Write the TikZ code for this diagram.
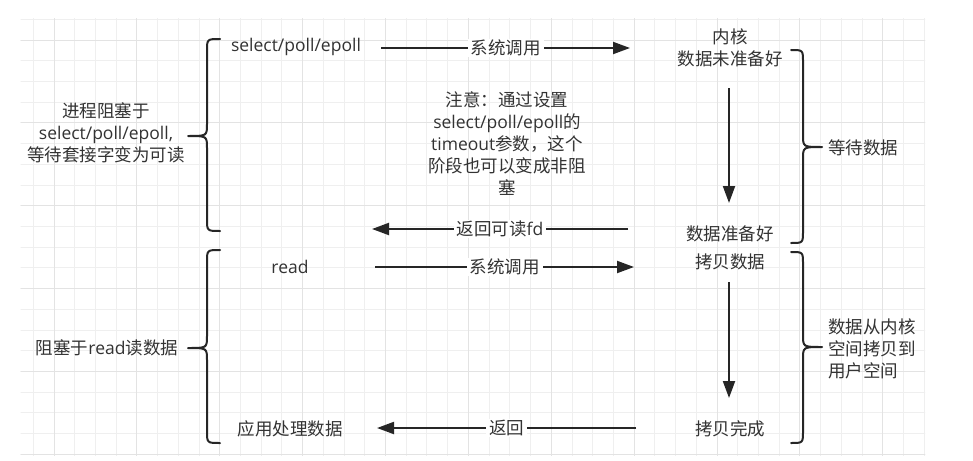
\documentclass[tikz,border=0pt]{standalone}
\usepackage{fontspec}
\setmainfont{Open Sans}
\newfontfamily\cjk{Noto Sans CJK SC}
\newcommand{\zh}[1]{{\cjk #1}}
\usetikzlibrary{arrows.meta}
\definecolor{gminor}{HTML}{EFEFEF}
\definecolor{gmajor}{HTML}{E3E3E3}
\definecolor{txt}{HTML}{333333}
\definecolor{ink}{HTML}{262626}
\begin{document}
\begin{tikzpicture}[x=1pt,y=-1pt,
  lbl/.style={font=\fontsize{17.5}{22}\selectfont, text=txt, inner sep=0pt, align=center},
  arr/.style={draw=ink, line width=2pt, -{Triangle[length=17pt,width=12pt]}},
  alabel/.style={lbl, fill=white, inner xsep=3pt, inner ysep=1pt},
  brace/.style={draw=ink, line width=2pt, line cap=round, line join=round},
  gline/.style={draw=gminor, line width=1pt},
  gmaj/.style={draw=gmajor, line width=1pt}]
\useasboundingbox (0,0) rectangle (973,460);
\fill[white] (0,0) rectangle (973,460);
% grid
\begin{scope}
\clip (20.7,18.8) rectangle (925,455);
\foreach \k in {-1,...,42} {\draw[gline] ({54+20.72*\k},18) -- ({54+20.72*\k},456);}
\foreach \k in {0,...,21} {\draw[gline] (20,{19.3+20.72*\k}) -- (926,{19.3+20.72*\k});}
\foreach \k in {0,4,...,40} {\draw[gmaj] ({54+20.72*\k},18) -- ({54+20.72*\k},456);}
\foreach \k in {1,5,...,21} {\draw[gmaj] (20,{19.3+20.72*\k}) -- (926,{19.3+20.72*\k});}
\end{scope}
% text nodes
\node[lbl] (l1) at (106,133) {\zh{进程阻塞于}\\select/poll/epoll,\\\zh{等待套接字变为可读}};
\node[lbl] (sel) at (296,47) {select/poll/epoll};
\node[lbl] (k1) at (730,47.5) {\zh{内核}\\\zh{数据未准备好}};
\node[lbl] (note) at (507,144) {\zh{注意：通过设置}\\select/poll/epoll\zh{的}\\timeout\zh{参数，这个}\\\zh{阶段也可以变成非阻}\\\zh{塞}};
\node[lbl] (k2) at (730,234) {\zh{数据准备好}};
\node[lbl] (wait) at (863,148) {\zh{等待数据}};
\node[lbl] (read) at (290,267) {read};
\node[lbl] (cp1) at (730,262) {\zh{拷贝数据}};
\node[lbl] (cp2) at (730,429) {\zh{拷贝完成}};
\node[lbl] (app) at (290,429) {\zh{应用处理数据}};
\node[lbl] (l2) at (107,348) {\zh{阻塞于}read\zh{读数据}};
\node[lbl, align=left, anchor=west] (copytxt) at (828,349) {\zh{数据从内核}\\\zh{空间拷贝到}\\\zh{用户空间}};
% braces
\draw[brace] (220,39) .. controls (207,39) .. (207,51) -- (207,124) .. controls (207,136) .. (188,136) .. controls (207,136) .. (207,148) -- (207,219) .. controls (207,231) .. (220,231);
\draw[brace] (220,250) .. controls (207,250) .. (207,262) -- (207,336) .. controls (207,348) .. (188,348) .. controls (207,348) .. (207,360) -- (207,431) .. controls (207,443) .. (220,443);
\draw[brace] (791,50) .. controls (803,50) .. (803,62) -- (803,135) .. controls (803,147) .. (822,147) .. controls (803,147) .. (803,159) -- (803,231) .. controls (803,243) .. (791,243);
\draw[brace] (791,252) .. controls (803,252) .. (803,264) -- (803,335) .. controls (803,347) .. (822,347) .. controls (803,347) .. (803,359) -- (803,431) .. controls (803,443) .. (791,443);
% arrows
\coordinate (a1s) at (381,48); \coordinate (a1e) at (630,48);
\draw[arr] (a1s) -- node[alabel]{\zh{系统调用}} (a1e);
\coordinate (d1s) at (729,88); \coordinate (d1e) at (729,203);
\draw[arr] (d1s) -- (d1e);
\coordinate (r1s) at (628,229); \coordinate (r1e) at (372,229);
\draw[arr] (r1s) -- node[alabel]{\zh{返回可读}fd} (r1e);
\coordinate (a2s) at (375,267); \coordinate (a2e) at (634,267);
\draw[arr] (a2s) -- node[alabel]{\zh{系统调用}} (a2e);
\coordinate (d2s) at (729,282); \coordinate (d2e) at (729,398);
\draw[arr] (d2s) -- (d2e);
\coordinate (r2s) at (636,428); \coordinate (r2e) at (377,428);
\draw[arr] (r2s) -- node[alabel]{\zh{返回}} (r2e);
\end{tikzpicture}
\end{document}
